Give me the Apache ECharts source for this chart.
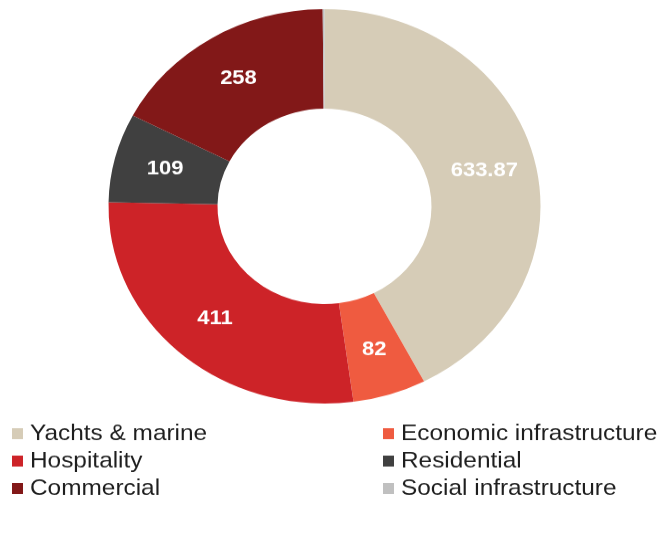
<!DOCTYPE html>
<html>
<head>
<meta charset="utf-8">
<script src="https://cdn.jsdelivr.net/npm/echarts@6/dist/echarts.min.js"></script>
<style>
html,body{margin:0;padding:0;background:#fff;overflow:hidden;width:659px;height:535px;}
#chart{width:659px;height:586px;transform:scaleY(0.913);transform-origin:0 0;}
</style>
</head>
<body>
<div id="chart"></div>
<script>
var categories = ['Yachts & marine','Economic infrastructure','Hospitality','Residential','Commercial','Social infrastructure'];
var values = [633.87, 82, 411, 109, 258, 2];
var labels = ['633.87','82','411','109','258',''];
var colors = ['#D6CCB7','#EF5B40','#CD2328','#404040','#821818','#C0C0C0'];
var legendCol1 = ['Yachts & marine','Hospitality','Commercial'];
var legendCol2 = ['Economic infrastructure','Residential','Social infrastructure'];

var data = categories.map(function(c,i){
  return {name:c, value:values[i], itemStyle:{color:colors[i]}, label:{show: labels[i] !== ''}};
});
var font = '"Liberation Sans", Arial, sans-serif';
function legend(left, items){
  return {
    data: items, orient:'vertical', left:left, top:463, padding:0,
    itemWidth:11, itemHeight:12, itemGap:6, icon:'rect',
    textStyle:{fontFamily:font, fontSize:24.4, color:'#1e1e1e', lineHeight:24, padding:[0,0,0,2]},
    selectedMode:false
  };
}
var chart = echarts.init(document.getElementById('chart'), null, {renderer:'canvas'});
chart.setOption({
  animation:false,
  legend:[legend(12, legendCol1), legend(383, legendCol2)],
  series:[{
    type:'pie',
    center:[324.5,226],
    radius:[107,216],
    startAngle:90,
    clockwise:true,
    avoidLabelOverlap:false,
    labelLine:{show:false},
    label:{
      position:'inside', color:'#fff', fontFamily:font, fontSize:22, fontWeight:'bold',
      formatter:function(p){return labels[p.dataIndex];}
    },
    emphasis:{disabled:true},
    itemStyle:{borderWidth:0},
    data:data
  }]
});
</script>
</body>
</html>
